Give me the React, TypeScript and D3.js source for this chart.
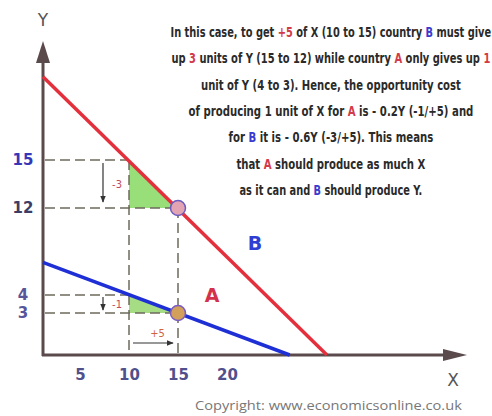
import { useEffect, useRef } from "react"
import * as d3 from "d3";

// values (it is a schematic, so Y is not evenly spaced)
const xTicks = [5, 10, 15, 20]
const yTicks = [3, 4, 12, 15]
const yTickPixels = [313, 295, 208, 160]

// production possibility frontiers, from the Y axis down to the X axis
const ppfA = [{ x: 1.22, y: 7.0 }, { x: 26.4, y: 0 }]
const ppfB = [{ x: 1.22, y: 20.2 }, { x: 30.2, y: 0 }]

// the trade-off: +5 of X (10 to 15)
const tradeX = [10, 15]
const tradeA = [4, 3]
const tradeB = [15, 12]
const gainX = "+5"
const lossA = "-1"
const lossB = "-3"

const note = [
    [["In this case, to get ", "t"], ["+5", "r"], [" of X (10 to 15) country ", "t"], ["B", "b"], [" must give", "t"]],
    [["up ", "t"], ["3", "r"], [" units of Y (15 to 12) while country ", "t"], ["A", "r"], [" only gives up ", "t"], ["1", "r"]],
    [["unit of Y (4 to 3).  Hence, the opportunity cost", "t"]],
    [["of producing 1 unit of X for ", "t"], ["A", "r"], [" is - 0.2Y (-1/+5) and", "t"]],
    [["for ", "t"], ["B", "b"], [" it is - 0.6Y (-3/+5). This means", "t"]],
    [["that ", "t"], ["A", "r"], [" should produce as much X", "t"]],
    [["as it can and ", "t"], ["B", "b"], [" should produce Y.", "t"]],
]
const noteWidths = [321, 319, 260, 285, 205, 189, 183]

export default function App() {
    const svgRef = useRef(null);

    useEffect(() => {
        const width = 492, height = 416
        const x0 = 43, yBase = 355

        d3.select(svgRef.current).selectAll("*").remove();
        const svg = d3.select(svgRef.current)
            .attr("width", width)
            .attr("height", height)

        svg.append("rect").attr("width", width).attr("height", height).attr("fill", "#fff")

        const x = d3.scaleLinear().domain([0, 20]).range([31, 227])
        const y = d3.scaleLinear().domain([0, ...yTicks]).range([yBase, ...yTickPixels])

        const axisColor = "#5b4a4c"
        const dashColor = "#6e6a5c"

        // green triangles
        const tri = (ys) => [[tradeX[0], ys[0]], [tradeX[0], ys[1]], [tradeX[1], ys[1]]]
            .map(p => [x(p[0]), y(p[1])].join(",")).join(" ")
        svg.append("polygon").attr("points", tri(tradeB)).attr("fill", "#98df79")
        svg.append("polygon").attr("points", tri(tradeA)).attr("fill", "#a6dc84")

        // dashed guides
        const dashed = (x1, y1, x2, y2) => svg.append("line")
            .attr("x1", x1).attr("y1", y1).attr("x2", x2).attr("y2", y2)
            .attr("stroke", dashColor).attr("stroke-width", 1.5)
            .attr("stroke-dasharray", "10,5")
        ;[tradeB, tradeA].forEach(ys => {
            dashed(x0 + 2, y(ys[0]), x(tradeX[0]), y(ys[0]))
            dashed(x0 + 2, y(ys[1]), x(tradeX[1]), y(ys[1]))
        })
        dashed(x(tradeX[0]), y(tradeB[0]), x(tradeX[0]), yBase)
        dashed(x(tradeX[1]), y(tradeB[1]), x(tradeX[1]), yBase)

        // axes
        svg.append("line").attr("x1", x0).attr("y1", yBase + 1).attr("x2", x0).attr("y2", 60)
            .attr("stroke", axisColor).attr("stroke-width", 3)
        svg.append("polygon").attr("points", `${x0},41 ${x0 - 7},63 ${x0 + 7},63`).attr("fill", axisColor)
        svg.append("line").attr("x1", x0 - 1).attr("y1", yBase).attr("x2", 446).attr("y2", yBase)
            .attr("stroke", axisColor).attr("stroke-width", 3)
        svg.append("polygon").attr("points", `467,${yBase} 443,${yBase - 6} 443,${yBase + 6}`).attr("fill", axisColor)

        // PPF lines
        const line = d3.line().x(d => x(d.x)).y(d => y(d.y))
        svg.append("path").attr("d", line(ppfB)).attr("fill", "none")
            .attr("stroke", "#e3303c").attr("stroke-width", 3.5)
        svg.append("path").attr("d", line(ppfA)).attr("fill", "none")
            .attr("stroke", "#1e2fd6").attr("stroke-width", 3.5)

        // points after the trade
        svg.append("circle").attr("cx", x(tradeX[1])).attr("cy", y(tradeB[1])).attr("r", 7.5)
            .attr("fill", "#e2a3b2").attr("stroke", "#6b5cc0").attr("stroke-width", 1.5)
        svg.append("circle").attr("cx", x(tradeX[1])).attr("cy", y(tradeA[1])).attr("r", 7.5)
            .attr("fill", "#d2a05a").attr("stroke", "#7a5cc0").attr("stroke-width", 1.5)

        // change arrows
        const defs = svg.append("defs")
        defs.append("marker").attr("id", "head").attr("viewBox", "0 0 10 10")
            .attr("refX", 9).attr("refY", 5).attr("markerWidth", 6).attr("markerHeight", 6)
            .attr("orient", "auto")
            .append("path").attr("d", "M0,1 L10,5 L0,9 Z").attr("fill", "#333")
        const arrow = (x1, y1, x2, y2) => svg.append("line")
            .attr("x1", x1).attr("y1", y1).attr("x2", x2).attr("y2", y2)
            .attr("stroke", "#333").attr("stroke-width", 1.2).attr("marker-end", "url(#head)")
        const ax = x(tradeX[0]) - 26
        arrow(ax, y(tradeB[0]) + 3, ax, y(tradeB[1]) - 6)
        arrow(ax, y(tradeA[0]) + 2, ax, y(tradeA[1]) - 3)
        arrow(x(tradeX[0]) + 4, yBase - 12, x(tradeX[1]) - 5, yBase - 12)

        const small = (tx, ty, s, c) => svg.append("text").attr("x", tx).attr("y", ty)
            .attr("text-anchor", "middle").attr("font-family", "DejaVu Sans Condensed, DejaVu Sans, sans-serif")
            .attr("font-size", 11).attr("fill", c).text(s)
        small(ax + 14, (y(tradeB[0]) + y(tradeB[1])) / 2 + 4, lossB, "#c24a5a")
        small(ax + 14, (y(tradeA[0]) + y(tradeA[1])) / 2 + 4, lossA, "#c24a5a")
        small((x(tradeX[0]) + x(tradeX[1])) / 2 + 4, yBase - 18, gainX, "#d0643a")

        // tick labels
        const xAxis = svg.append("g")
            .attr("transform", `translate(0, ${yBase})`)
            .call(d3.axisBottom(x).tickValues(xTicks).tickSize(0).tickPadding(14))
        xAxis.select(".domain").remove()
        xAxis.selectAll("text")
            .attr("font-family", "DejaVu Sans, sans-serif").attr("font-size", 15)
            .attr("font-weight", "bold").attr("fill", "#50508c")

        const yColor = { 15: "#3636b8", 12: "#3b3d66", 4: "#56569a", 3: "#56569a" }
        svg.append("g").selectAll("text").data(yTicks).join("text")
            .attr("x", 23).attr("y", d => y(d)).attr("dy", "0.36em")
            .attr("text-anchor", "middle")
            .attr("font-family", "DejaVu Sans, sans-serif").attr("font-size", 15)
            .attr("font-weight", "bold").attr("fill", d => yColor[d])
            .text(d => d)

        // axis titles
        svg.append("text").attr("x", x0).attr("y", 26).attr("text-anchor", "middle")
            .attr("font-family", "DejaVu Sans, sans-serif").attr("font-size", 17).attr("fill", "#555").text("Y")
        svg.append("text").attr("x", 453).attr("y", 386).attr("text-anchor", "middle")
            .attr("font-family", "DejaVu Sans, sans-serif").attr("font-size", 17).attr("fill", "#555").text("X")

        // country labels
        svg.append("text").attr("x", 255).attr("y", 250).attr("text-anchor", "middle")
            .attr("font-family", "DejaVu Sans, sans-serif").attr("font-size", 19).attr("font-weight", "bold")
            .attr("fill", "#2f3fd2").text("B")
        svg.append("text").attr("x", 212).attr("y", 302).attr("text-anchor", "middle")
            .attr("font-family", "DejaVu Sans, sans-serif").attr("font-size", 19).attr("font-weight", "bold")
            .attr("fill", "#d4324c").text("A")

        // squeezed text: draw at natural width, then scale it horizontally
        const squeezed = (cx, by, w, segs, font, size, weight) => {
            const g = svg.append("g")
            const t = g.append("text")
                .attr("font-family", font).attr("font-size", size).attr("font-weight", weight)
            segs.forEach(s => t.append("tspan").attr("fill", s[1]).text(s[0]))
            const nat = t.node().getComputedTextLength()
            const sx = w / nat
            g.attr("transform", `translate(${cx - w / 2},${by}) scale(${sx},1)`)
        }

        // explanation
        const colors = { t: "#2a2a2a", r: "#d23a4a", b: "#3a3ad0" }
        note.forEach((segs, i) => {
            squeezed(331, 37 + i * 26.3, noteWidths[i], segs.map(s => [s[0], colors[s[1]]]),
                "DejaVu Sans Condensed, DejaVu Sans, sans-serif", 14.5, 600)
        })

        squeezed(195 + 267 / 2, 409.5, 267, [["Copyright: www.economicsonline.co.uk", "#777"]],
            "Open Sans, DejaVu Sans, sans-serif", 13, 400)
    }, [])

    return <svg ref={svgRef} style={{ position: "absolute", left: 0, top: 0 }}></svg>
}
